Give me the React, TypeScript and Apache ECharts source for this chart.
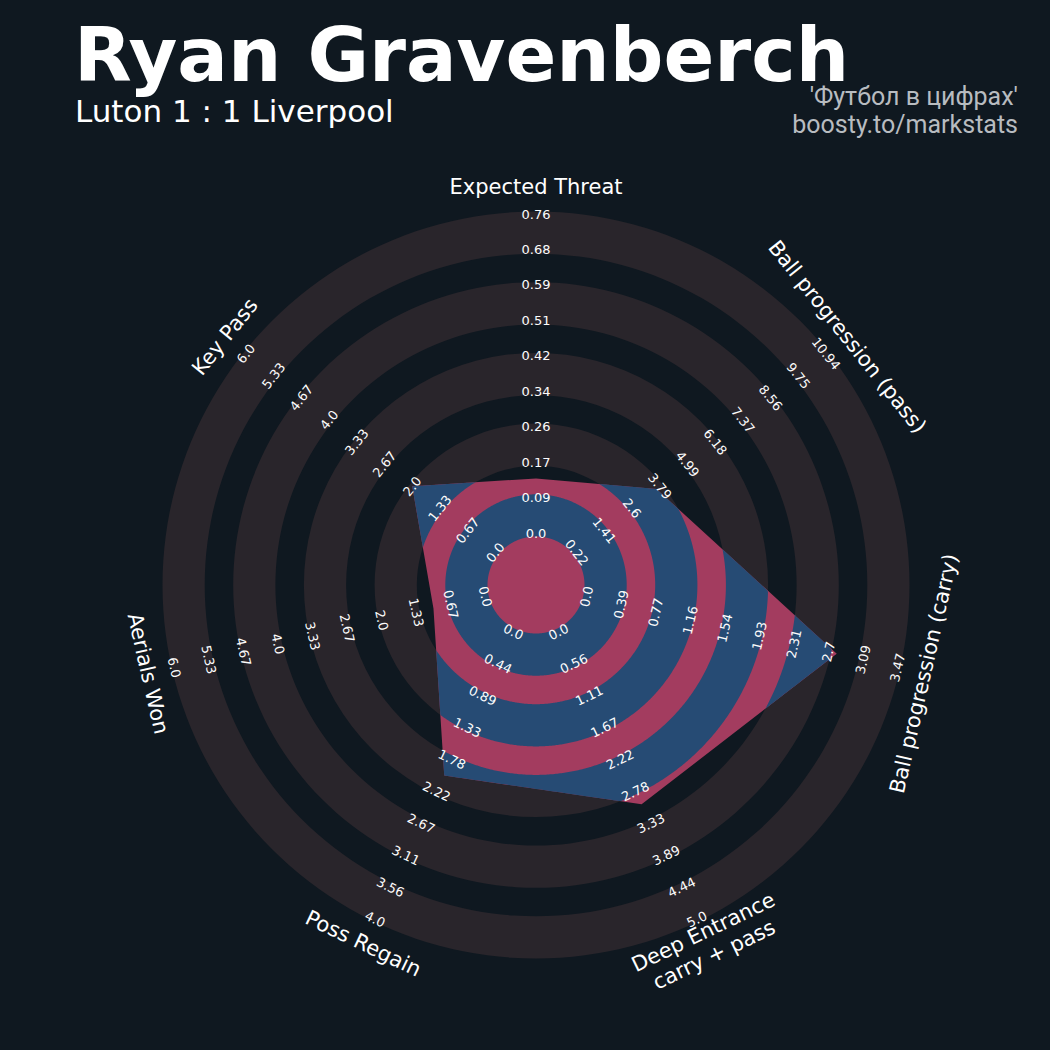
import React, { useEffect, useRef } from 'react';
import * as echarts from 'echarts';

// ---------------- data ----------------
const PARAMS = [
  'Expected Threat',
  'Ball progression (pass)',
  'Ball progression (carry)',
  'Deep Entrance\ncarry + pass',
  'Poss Regain',
  'Aerials Won',
  'Key Pass',
];
const LOW = [0, 0.22, 0, 0, 0, 0, 0];
const HIGH = [0.76, 10.94, 3.47, 5.0, 4.0, 6.0, 6.0];
const PLAYER_VALUES = [0.13, 3.65, 2.79, 3.0, 2.0, 1.0, 2.0];

const TICKS_XT = ['0.0', '0.09', '0.17', '0.26', '0.34', '0.42', '0.51', '0.59', '0.68', '0.76'];
const TICKS_PASS = ['0.22', '1.41', '2.6', '3.79', '4.99', '6.18', '7.37', '8.56', '9.75', '10.94'];
const TICKS_CARRY = ['0.0', '0.39', '0.77', '1.16', '1.54', '1.93', '2.31', '2.7', '3.09', '3.47'];
const TICKS_DEEP = ['0.0', '0.56', '1.11', '1.67', '2.22', '2.78', '3.33', '3.89', '4.44', '5.0'];
const TICKS_REGAIN = ['0.0', '0.44', '0.89', '1.33', '1.78', '2.22', '2.67', '3.11', '3.56', '4.0'];
const TICKS_AERIAL = ['0.0', '0.67', '1.33', '2.0', '2.67', '3.33', '4.0', '4.67', '5.33', '6.0'];
const TICKS_KEYPASS = ['0.0', '0.67', '1.33', '2.0', '2.67', '3.33', '4.0', '4.67', '5.33', '6.0'];
const TICK_LABELS = [TICKS_XT, TICKS_PASS, TICKS_CARRY, TICKS_DEEP, TICKS_REGAIN, TICKS_AERIAL, TICKS_KEYPASS];

const TITLE = 'Ryan Gravenberch';
const SUBTITLE = 'Luton 1 : 1 Liverpool';
const CREDIT_LINES = ["'Футбол в цифрах'", 'boosty.to/markstats'];

// ---------------- layout / style ----------------
const BG = '#0f1820';
const RING_COLOR = '#29252b';
const RADAR_COLOR = '#a33c5f';
const RING_INNER_COLOR = '#264b74';
const CREDIT_COLOR = '#b8bcc0';
const CENTER = [536, 585];
const POLAR_MAX = 420;
const R_LOW = 52;
const R_HIGH = 371;
const RING_START = 48.5;
const RING_PERIOD = 70.7;
const RING_WIDTH = 42.2;
const RING_COUNT = 5;
const PARAM_LABEL_R = 398;
const SAMPLES = 120;

const N = PARAMS.length;
const axisAngle = (i: number) => (i * 360) / N;
const valueToRadius = (v: number, i: number) =>
  R_LOW + ((v - LOW[i]) / (HIGH[i] - LOW[i])) * (R_HIGH - R_LOW);

const toXY = (r: number, aDeg: number) => {
  const t = (aDeg * Math.PI) / 180;
  return [r * Math.sin(t), r * Math.cos(t)];
};
const cross = (u: number[], w: number[]) => u[0] * w[1] - u[1] * w[0];

const VERTS = PLAYER_VALUES.map((v, i) => toXY(valueToRadius(v, i), axisAngle(i)));

function rho(aDeg: number) {
  const a = ((aDeg % 360) + 360) % 360;
  const step = 360 / N;
  let i = Math.floor(a / step);
  if (i >= N) i = N - 1;
  const P = VERTS[i];
  const Q = VERTS[(i + 1) % N];
  const e = [Q[0] - P[0], Q[1] - P[1]];
  const d = toXY(1, a);
  return cross(P, e) / cross(d, e);
}

function textRotation(aDeg: number) {
  let theta = 90 - aDeg;
  theta = ((theta + 180) % 360 + 360) % 360 - 180;
  const rot = theta >= 0 ? theta - 90 : theta + 90;
  return (rot * Math.PI) / 180;
}

export default function App() {
  const ref = useRef<HTMLDivElement>(null);

  useEffect(() => {
    if (!ref.current) return;
    const chart = echarts.init(ref.current, undefined, { renderer: 'svg' });

    const radiusPx = (api: any, v: number) => {
      const c = api.coord([0, 0]);
      const p = api.coord([v, 0]);
      return Math.hypot(p[0] - c[0], p[1] - c[1]);
    };

    const angles: number[] = [];
    for (let k = 0; k <= N * SAMPLES; k++) angles.push((k * 360) / (N * SAMPLES));

    const option: any = {
      animation: false,
      backgroundColor: BG,
      title: [
        {
          text: TITLE,
          left: 74,
          top: 26.5,
          padding: 0,
          textStyle: { color: '#ffffff', fontSize: 75, lineHeight: 56, fontWeight: 'bold', fontFamily: 'DejaVu Sans' },
        },
        {
          text: SUBTITLE,
          left: 75,
          top: 97,
          padding: 0,
          textStyle: { color: '#ffffff', fontSize: 31, lineHeight: 27, fontWeight: 'normal', fontFamily: 'DejaVu Sans' },
        },
      ],
      graphic: CREDIT_LINES.map((t, i) => ({
        type: 'text',
        x: 1018,
        y: 96 + i * 28,
        silent: true,
        style: {
          text: t, fill: CREDIT_COLOR, fontSize: 25, lineHeight: 26, fontFamily: 'Roboto',
          align: 'right', verticalAlign: 'middle',
        },
      })),
      polar: { center: CENTER, radius: POLAR_MAX },
      angleAxis: {
        type: 'value', min: 0, max: 360, startAngle: 90, clockwise: true,
        axisLine: { show: false }, axisTick: { show: false }, axisLabel: { show: false }, splitLine: { show: false },
      },
      radiusAxis: {
        type: 'value', min: 0, max: POLAR_MAX,
        axisLine: { show: false }, axisTick: { show: false }, axisLabel: { show: false }, splitLine: { show: false },
      },
      series: [
        {
          type: 'custom', name: 'rings', coordinateSystem: 'polar', silent: true, z: 1,
          data: [[0, 0]],
          renderItem: (params: any, api: any) => {
            const c = api.coord([0, 0]);
            const children = [];
            for (let k = 0; k < RING_COUNT; k++) {
              const r1 = RING_START + k * RING_PERIOD;
              const r2 = r1 + RING_WIDTH;
              children.push({
                type: 'ring',
                shape: { cx: c[0], cy: c[1], r0: radiusPx(api, r1), r: radiusPx(api, r2) },
                style: { fill: RING_COLOR },
              });
            }
            return { type: 'group', children };
          },
        },
        {
          type: 'custom', name: 'Ryan Gravenberch', coordinateSystem: 'polar', silent: true, z: 2,
          data: [[0, 0]],
          renderItem: (params: any, api: any) => {
            const pts = PLAYER_VALUES.map((v, i) => api.coord([valueToRadius(v, i), axisAngle(i)]));
            return { type: 'polygon', shape: { points: pts }, style: { fill: RADAR_COLOR } };
          },
        },
        {
          type: 'custom', name: 'rings inner', coordinateSystem: 'polar', silent: true, z: 3,
          data: [[0, 0]],
          renderItem: (params: any, api: any) => {
            const children = [];
            for (let k = 0; k < RING_COUNT; k++) {
              const r1 = RING_START + k * RING_PERIOD;
              const r2 = r1 + RING_WIDTH;
              const outer = angles.map((a) => api.coord([Math.min(r2, Math.max(r1, rho(a))), a]));
              const inner = angles.slice().reverse().map((a) => api.coord([r1, a]));
              children.push({
                type: 'polygon',
                shape: { points: outer.concat(inner) },
                style: { fill: RING_INNER_COLOR },
              });
            }
            return { type: 'group', children };
          },
        },
        {
          type: 'custom', name: 'labels', coordinateSystem: 'polar', silent: true, z: 4,
          data: [[0, 0]],
          renderItem: (params: any, api: any) => {
            const children: any[] = [];
            for (let i = 0; i < N; i++) {
              const a = axisAngle(i);
              const rot = textRotation(a);
              const ticks = TICK_LABELS[i];
              for (let j = 0; j < ticks.length; j++) {
                const tv = LOW[i] + (j * (HIGH[i] - LOW[i])) / (ticks.length - 1);
                const p = api.coord([valueToRadius(tv, i), a]);
                children.push({
                  type: 'text', x: p[0], y: p[1], rotation: rot,
                  style: {
                    text: ticks[j], fill: '#fcfcfc', fontSize: 13, fontFamily: 'DejaVu Sans',
                    align: 'center', verticalAlign: 'middle',
                  },
                });
              }
              const q = api.coord([PARAM_LABEL_R, a]);
              children.push({
                type: 'text', x: q[0], y: q[1], rotation: rot,
                style: {
                  text: PARAMS[i], fill: '#ffffff', fontSize: 21, fontFamily: 'DejaVu Sans',
                  align: 'center', verticalAlign: 'middle', lineHeight: 25,
                },
              });
            }
            return { type: 'group', children };
          },
        },
      ],
    };

    chart.setOption(option);
    return () => chart.dispose();
  }, []);

  return (
    <div
      ref={ref}
      style={{ position: 'fixed', left: 0, top: 0, width: 1050, height: 1050 }}
    />
  );
}
